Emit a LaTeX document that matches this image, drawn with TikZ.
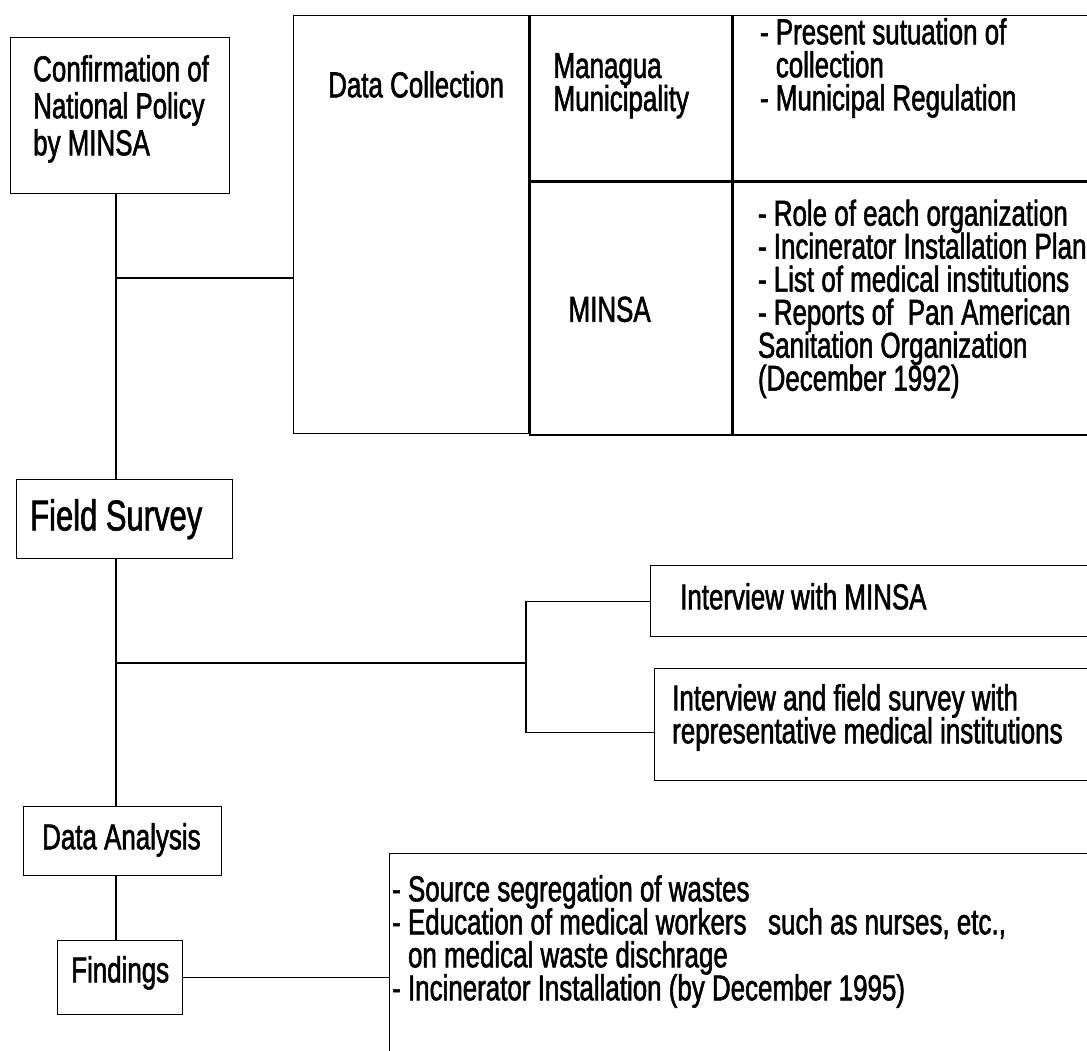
\documentclass[tikz,border=0pt]{standalone}
\usepackage{fontspec}
\setmainfont{Liberation Sans}[FakeStretch=0.72, FakeBold=1.5]
\usetikzlibrary{calc}
\newcommand\txtsize[2]{\fontsize{#1}{#2}\selectfont\lineskiplimit=-50pt}

\begin{document}
\begin{tikzpicture}[
    x=1pt, y=-1pt,
    frame/.style={draw, line width=1.4pt, anchor=north west, inner sep=0pt},
    lbl/.style={anchor=north west, inner sep=0pt, align=left,
                font=\txtsize{36}{33}},
    link/.style={line width=1.4pt},
  ]
  \useasboundingbox (0,0) rectangle (1087,1051);
  \coordinate (spine) at (116,0);

  % Main steps
  \node[frame, minimum width=219pt, minimum height=156pt] (pol) at (10,37) {};
  \node[frame, minimum width=216pt, minimum height=79pt] (fs) at (16,479) {};
  \node[frame, minimum width=198pt, minimum height=69pt] (da) at (23,806) {};
  \node[frame, minimum width=125pt, minimum height=74pt] (fd) at (57,940) {};

  \node[lbl, font=\txtsize{36}{37}] (pol-t)
    at ($(pol.north west)+(23,18)$) {Confirmation of\\National Policy\\by MINSA};
  \node[lbl, font=\txtsize{43}{43}] (fs-t)
    at ($(fs.north west)+(14,20)$) {Field Survey};
  \node[lbl] (da-t) at ($(da.north west)+(19,17)$) {Data Analysis};
  \node[lbl] (fd-t) at ($(fd.north west)+(14,16)$) {Findings};

  % Data collection table
  \node[frame, minimum width=235pt, minimum height=418pt] (dc) at (293,15) {};
  \node[frame, minimum width=202pt, minimum height=165pt] (mm) at (dc.north east) {};
  \node[frame, minimum width=370pt, minimum height=165pt] (mt) at (mm.north east) {};
  \node[frame, minimum width=202pt, minimum height=253pt] (mi) at (mm.south west) {};
  \node[frame, minimum width=370pt, minimum height=253pt] (ml) at (mi.north east) {};

  \node[lbl] (dc-t) at ($(dc.north west)+(35,56)$) {Data Collection};
  \node[lbl] (mm-t) at ($(mm.north west)+(24,38)$) {Managua\\Municipality};
  \node[lbl] (mt-t) at ($(mt.north west)+(27,3)$)
    {- Present sutuation of\\\phantom{- }collection\\- Municipal Regulation};
  \node[lbl] (mi-t) at ($(mi.north west)+(39,115)$) {MINSA};
  \node[lbl] (ml-t) at ($(ml.north west)+(25,18)$)
    {- Role of each organization\\- Incinerator Installation Plan\\%
     - List of medical institutions\\- Reports of\ \ Pan American\\%
     Sanitation Organization\\(December 1992)};

  % Interviews
  \node[frame, minimum width=450pt, minimum height=71pt] (i1) at (650,565) {};
  \node[frame, minimum width=446pt, minimum height=112pt] (i2) at (654,668) {};
  \node[lbl] (i1-t) at ($(i1.north west)+(30,18)$) {Interview with MINSA};
  \node[lbl] (i2-t) at ($(i2.north west)+(18,16)$)
    {Interview and field survey with\\representative medical institutions};

  % Findings list
  \node[frame, minimum width=711pt, minimum height=217pt] (fl) at (389,853) {};
  \node[lbl] (fl-t) at ($(fl.north west)+(3,22)$)
    {- Source segregation of wastes\\%
     - Education of medical workers\ \ \ such as nurses, etc.,\\%
     \phantom{- }on medical waste dischrage\\%
     - Incinerator Installation (by December 1995)};

  % Spine
  \draw[link] (pol.south -| spine) -- (fs.north -| spine);
  \draw[link] (fs.south -| spine) -- (da.north -| spine);
  \draw[link] (da.south -| spine) -- (fd.north -| spine);

  % Branches
  \coordinate (j1) at (116,278);
  \draw[link] (j1) -- (j1 -| dc.west);
  \coordinate (j2) at (116,663);
  \coordinate (fork) at (526,663);
  \draw[link] (j2) -- (fork);
  \draw[link] (i1.west) -| (fork) |- ([yshift=-8pt]i2.west);
  \draw[link] (fd.east) -- (fd.east -| fl.west);
\end{tikzpicture}
\end{document}
